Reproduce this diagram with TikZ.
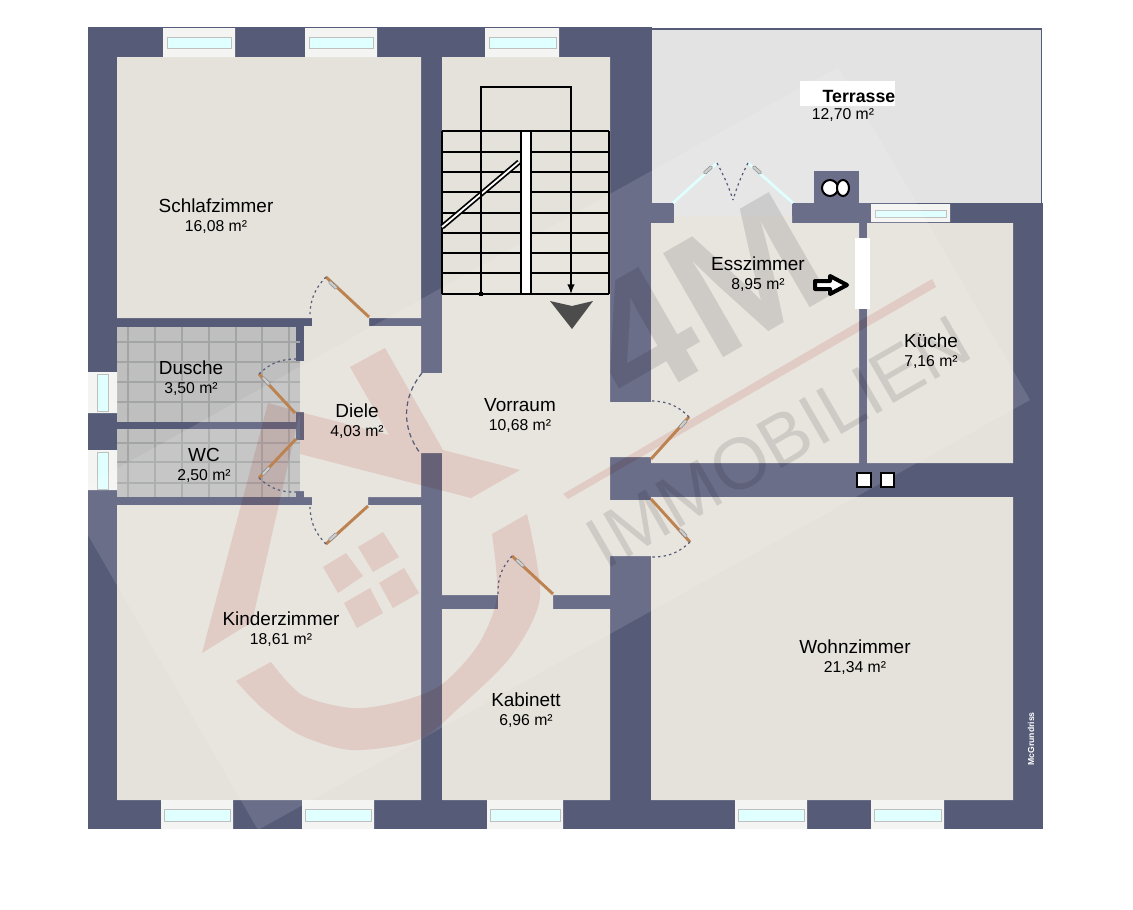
\documentclass[tikz,border=0pt]{standalone}
\usepackage{fontspec}
\setmainfont{Liberation Sans}
\usetikzlibrary{positioning}
\definecolor{wallblue}{HTML}{565B78}
\definecolor{floorbeige}{HTML}{E5E2DB}
\definecolor{terracegrey}{HTML}{E3E3E3}
\definecolor{tilegrey}{HTML}{BEBFBE}
\definecolor{tileline}{HTML}{A3A4A4}
\definecolor{glassblue}{HTML}{E0FFFF}
\definecolor{frameoff}{HTML}{F4F4F2}
\definecolor{leafbrown}{HTML}{BC8350}
\definecolor{logotint}{rgb}{.974,.89,.888}
\definecolor{lettertint}{gray}{.89}
\tikzset{
  floorpart/.style={fill=floorbeige},
  winframe/.style={fill=frameoff},
  winglass/.style={fill=glassblue,draw=black!25,line width=.7pt},
  doorleaf/.style={draw=leafbrown,line width=2.2pt},
  doorswing/.style={draw=wallblue,line width=.9pt,dash pattern=on 1.8pt off 2.4pt},
  hinge/.style={draw=black!50,fill=black!20,line width=.3pt,rounded corners=1pt,
    minimum width=8pt,minimum height=2.4pt,inner sep=0pt},
  roomname/.style={font=\fontsize{14.2}{16}\selectfont,text height=10.5pt,text depth=0pt,inner sep=0pt},
  roomarea/.style={font=\fontsize{11.8}{14}\selectfont,text height=8.5pt,text depth=0pt,inner sep=0pt},
  stairline/.style={draw=black,line width=1.5pt},
}
\begin{document}
\begin{tikzpicture}[x=.75pt,y=-.75pt]
  \useasboundingbox (0,0) rectangle (1133,910);
  % walls and terrace
  \fill[wallblue] (88,27) rectangle (652,829);
  \fill[wallblue] (652,203) rectangle (1043,829);
  \fill[wallblue] (652,28) rectangle (1042,203);
  \fill[terracegrey] (652,30) rectangle (1040.5,203);
  \fill[terracegrey] (674,203) rectangle (792,216);
  \fill[wallblue] (814,171) rectangle (859,203);
  % floors
  \fill[floorpart]
    (117,57) rectangle (421,318)
    (312,318) rectangle (369,326)
    (304,326) rectangle (421,497)
    (296,361) rectangle (304,412)
    (296,440) rectangle (304,491)
    (312,497) rectangle (368,505)
    (421,373) rectangle (442,453)
    (442,57) rectangle (610,595)
    (498,595) rectangle (553,609)
    (610,402) rectangle (651,457)
    (610,500) rectangle (651,556)
    (117,505) rectangle (421,800)
    (442,609) rectangle (610,800)
    (651,223) rectangle (859,463)
    (867,223) rectangle (1013,463)
    (651,497) rectangle (1013,800)
    (674,216) rectangle (792,223);
  % tiles
  \fill[tilegrey] (117,327) rectangle (296,422);
  \fill[tilegrey] (296,361) rectangle (300,412);
  \fill[tilegrey] (117,429) rectangle (296,497);
  \fill[tilegrey] (296,440) rectangle (300,491);
  \begin{scope}[tileline,line width=.8pt]
    \foreach \tilex in {128,155,182,209,236,262,289} {
      \draw (\tilex,327) -- (\tilex,422);
      \draw (\tilex,429) -- (\tilex,497);
    }
    \foreach \tiley in {342,362,382,402,443,462,483}
      \draw (117,\tiley) -- (300,\tiley);
  \end{scope}
  % windows
  \path[winframe]
    (163,28) rectangle (235,57)
    (305,28) rectangle (377,57)
    (485,28) rectangle (559,57)
    (161,800) rectangle (233,829)
    (302,800) rectangle (374,829)
    (487,800) rectangle (563,829)
    (735,800) rectangle (807,829)
    (871,800) rectangle (944,829)
    (871,204) rectangle (950,222)
    (88,372) rectangle (117,413)
    (88,450) rectangle (117,490);
  \path[winglass]
    (167,37) rectangle (231,48)
    (309,37) rectangle (373,48)
    (489,37) rectangle (556,48)
    (164,809) rectangle (230,821)
    (305,809) rectangle (371,821)
    (490,809) rectangle (560,821)
    (738,809) rectangle (804,821)
    (874,809) rectangle (941,821)
    (875,210) rectangle (946,217)
    (97,374) rectangle (108,411)
    (97,452) rectangle (108,489);
  % watermark
  \fill[white,opacity=.12] (838,67) -- (1030,400) -- (258,830) -- (66,497) -- cycle;
  \begin{scope}[logotint,blend mode=multiply]
    \fill (563,494) -- (932,279) -- (936,287) -- (568,499) -- cycle;
    \fill (350,367) -- (385,348) -- (443,450) -- (520,470) -- (471,498) -- (300,454) -- (300,412) -- (389,435) -- cycle;
    \fill (202,653) -- (268,403) -- (300,412) -- (252,622) -- cycle;
    \fill (323,567) -- (346,553) -- (363,576) -- (338,593) -- cycle;
    \fill (358,547) -- (383,532) -- (399,557) -- (373,572) -- cycle;
    \fill (344,603) -- (370,588) -- (383,613) -- (357,628) -- cycle;
    \fill (379,583) -- (404,568) -- (419,593) -- (393,608) -- cycle;
    \fill plot[smooth] coordinates {(236,681) (262,708) (300,735) (352,750) (418,740) (462,705) (512,655) (540,597) (527,514)}
      -- plot[smooth] coordinates {(492,534) (497,597) (478,645) (441,685) (398,702) (352,708) (302,695) (271,662)} -- cycle;
  \end{scope}
  \begin{scope}[lettertint,blend mode=multiply]
    \node[rotate=30,inner sep=0pt,text height=94pt,text depth=0pt,
      font=\fontsize{131}{131}\selectfont\bfseries] (logoname) at (703,297) {4M};
    \node[rotate=30,inner sep=0pt,text height=39pt,text depth=0pt,
      font=\fontsize{54.5}{54.5}\selectfont] (logotext) at (778,441) {IMMOBILIEN};
  \end{scope}
  % terrace door and chimney
  \path[draw=glassblue,line width=2pt]
    (673,203) edge (717,163)
    (793,203) edge (748,163);
  \path[doorswing]
    (717,163) edge[bend left=5] (733,200)
    (748,163) edge[bend right=5] (733,200);
  \node[hinge,rotate=42] (hingeta) at (708,170) {};
  \node[hinge,rotate=-42] (hingetb) at (757,170) {};
  \fill[white,draw=black,line width=1.5pt] (830,188) circle[radius=8];
  \fill[white,draw=black,line width=1.5pt] (843,188) ellipse[x radius=6,y radius=8];
  % doors
  \path[doorleaf]
    (369,317) edge (326,277)
    (295,413) edge (259,374)
    (296,439) edge (259,478)
    (368,506) edge (326,544)
    (651,459) edge (689,417)
    (651,499) edge (690,542)
    (553,594) edge (512,556);
  \path[doorswing]
    (326,277) edge[bend right=22] (310,317)
    (259,374) edge[bend left=22] (296,359)
    (259,478) edge[bend right=22] (296,492)
    (326,544) edge[bend left=22] (310,505)
    (689,417) edge[bend right=22] (652,401)
    (690,542) edge[bend left=22] (652,557)
    (512,556) edge[bend right=22] (498,595);
  \draw[doorswing,dash pattern=on 3.5pt off 2.5pt] (422,373) to[bend right=38] (420,453);
  \node[hinge,rotate=-43] (hingea) at (333,285) {};
  \node[hinge,rotate=-47] (hingeb) at (266,381) {};
  \node[hinge,rotate=46]  (hingec) at (266,471) {};
  \node[hinge,rotate=42]  (hinged) at (333,537) {};
  \node[hinge,rotate=48]  (hingee) at (683,424) {};
  \node[hinge,rotate=-47] (hingef) at (683,533) {};
  \node[hinge,rotate=-43] (hingeg) at (520,563) {};
  % stairs
  \foreach \stairy in {131,152,172,192,213,233,253,273,294}
    \draw[stairline] (442,\stairy) -- (609,\stairy);
  \draw[stairline] (442,131) -- (442,294) (609,131) -- (609,294);
  \fill[white,draw=black,line width=1.5pt] (521,131) rectangle (531,294);
  \draw[black,line width=4pt] (442,227) -- (519,162);
  \draw[white,line width=1.4pt] (442,227) -- (519,162);
  \coordinate (stairfoot) at (481,294);
  \coordinate (stairend) at (571,294);
  \draw[stairline,->,>=latex] (stairfoot) |- (stairend |- 0,87) -- (stairend);
  \node[fill=black,minimum size=3.5pt,inner sep=0pt] (stairdot) at (stairfoot) {};
  \fill[black!70] (550,301) -- (572,306) -- (593,301) -- (572,329) -- cycle;
  % marks
  \fill[white] (855,238) rectangle (870,309);
  \path[fill=white,draw=black,line width=3pt,line join=round]
    (815,281) -- (830,281) -- (830,276) -- (847,285) -- (830,294) -- (830,289) -- (815,289) -- cycle;
  \path[fill=white,draw=black,line width=1.5pt]
    (857,473) rectangle (871,487)
    (881,473) rectangle (894,487);
  \fill[white] (800,81) rectangle (895,106);
  % labels
  \node[roomname] (schlaf) at (216,205) {Schlafzimmer};
  \node[roomarea,below=5.6pt of schlaf] (schlafarea) {16,08 m²};
  \node[roomname] (dusche) at (191,367) {Dusche};
  \node[roomarea,below=5.6pt of dusche] (duschearea) {3,50 m²};
  \node[roomname] (wc) at (204,454) {WC};
  \node[roomarea,below=5.6pt of wc] (wcarea) {2,50 m²};
  \node[roomname] (diele) at (357,410) {Diele};
  \node[roomarea,below=5.6pt of diele] (dielearea) {4,03 m²};
  \node[roomname] (vorraum) at (520,404) {Vorraum};
  \node[roomarea,below=5.6pt of vorraum] (vorraumarea) {10,68 m²};
  \node[roomname] (essen) at (758,263) {Esszimmer};
  \node[roomarea,below=5.6pt of essen] (essenarea) {8,95 m²};
  \node[roomname] (kueche) at (931,340) {Küche};
  \node[roomarea,below=5.6pt of kueche] (kuechearea) {7,16 m²};
  \node[roomname] (kinder) at (281,618) {Kinderzimmer};
  \node[roomarea,below=5.6pt of kinder] (kinderarea) {18,61 m²};
  \node[roomname] (kabinett) at (526,699) {Kabinett};
  \node[roomarea,below=5.6pt of kabinett] (kabinettarea) {6,96 m²};
  \node[roomname] (wohnen) at (855,646) {Wohnzimmer};
  \node[roomarea,below=5.6pt of wohnen] (wohnenarea) {21,34 m²};
  \node[roomname,font=\fontsize{13.3}{15}\selectfont\bfseries] (terrasse) at (859,95) {Terrasse};
  \node[roomarea] (terrassearea) at (843,114) {12,70 m²};
  \node[white,rotate=90,inner sep=0pt,font=\fontsize{6.5}{7}\selectfont\bfseries] (mcg) at (1031,739) {McGrundriss};
\end{tikzpicture}
\end{document}
